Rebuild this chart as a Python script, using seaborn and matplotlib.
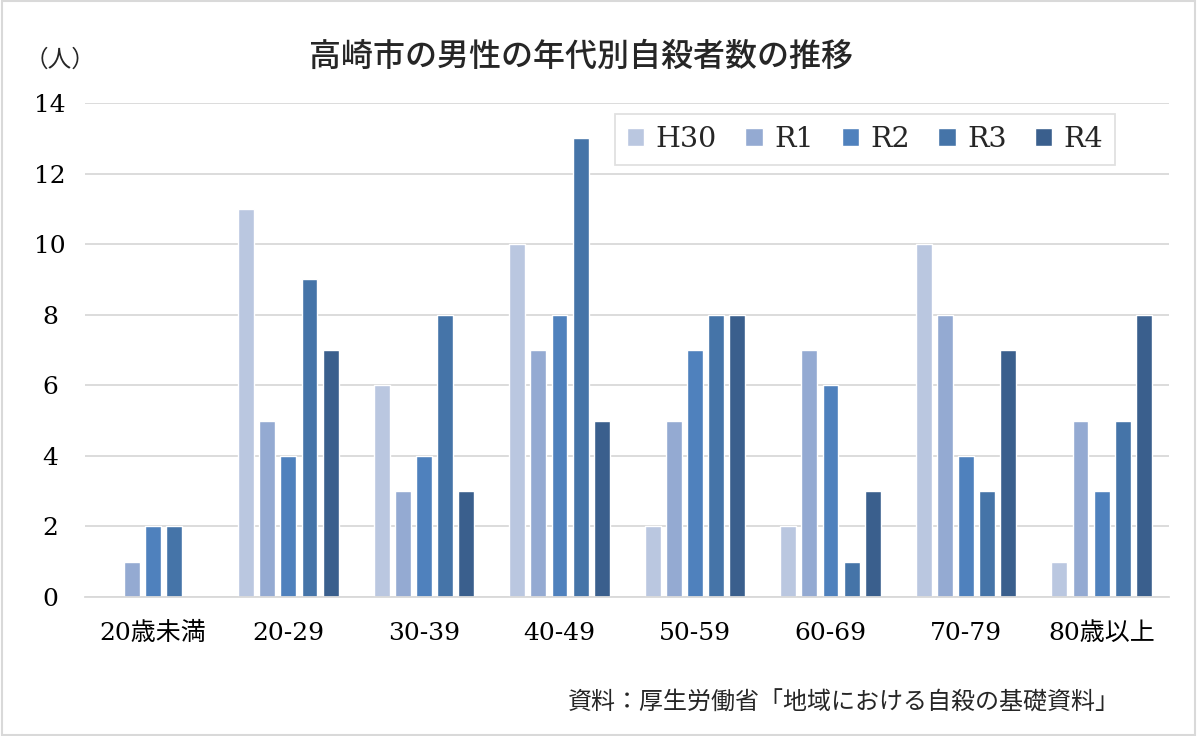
import matplotlib
matplotlib.use("Agg")
import matplotlib.pyplot as plt
import seaborn as sns
import pandas as pd
from matplotlib.patches import Rectangle

categories = ["20歳未満", "20-29", "30-39", "40-49", "50-59", "60-69", "70-79", "80歳以上"]
series_names = ["H30", "R1", "R2", "R3", "R4"]
h30 = [0, 11, 6, 10, 2, 2, 10, 1]
r1 = [1, 5, 3, 7, 5, 7, 8, 5]
r2 = [2, 4, 4, 8, 7, 6, 4, 3]
r3 = [2, 9, 8, 13, 8, 1, 3, 5]
r4 = [0, 7, 3, 5, 8, 3, 7, 8]
yticks = [0, 2, 4, 6, 8, 10, 12, 14]
colors = ["#BAC7E0", "#94AAD2", "#4F81BD", "#4574A8", "#3A5F8D"]

rows = []
for name, vals in zip(series_names, [h30, r1, r2, r3, r4]):
    for c, v in zip(categories, vals):
        rows.append({"cat": c, "series": name, "value": v})
df = pd.DataFrame(rows)

sns.set_theme(style="white")
serif = ["DejaVu Serif", "Noto Sans CJK JP"]
cjk = ["Noto Sans CJK JP", "DejaVu Sans"]
plt.rcParams["font.family"] = serif

fig = plt.figure(figsize=(11.97, 7.36), dpi=100)
ax = fig.add_axes([0.071, 0.189, 0.906, 0.671])
sns.barplot(data=df, x="cat", y="value", hue="series", order=categories,
            hue_order=series_names, palette=colors, width=0.78, gap=0.25,
            saturation=1, ax=ax, legend=True)

ax.set_ylim(0, 14)
ax.set_yticks(yticks)
ax.set_yticklabels([str(t) for t in yticks], fontsize=18, family=serif, ha="center")
ax.set_xticks(range(len(categories)))
ax.set_xticklabels(categories, fontsize=18, family=serif)
ax.tick_params(axis="both", length=0, colors="#000000")
ax.tick_params(axis="y", pad=25)
ax.tick_params(axis="x", pad=18)
ax.set_xlabel("")
ax.set_ylabel("")
ax.grid(axis="y", color="#D9D9D9", linewidth=1.3)
ax.set_axisbelow(True)
for s in ["top", "right", "left"]:
    ax.spines[s].set_visible(False)
ax.spines["bottom"].set_color("#D9D9D9")
ax.spines["bottom"].set_linewidth(1.3)

leg = ax.legend(loc="upper right", bbox_to_anchor=(0.963, 1.006), ncol=5,
                frameon=True, fontsize=20.5, handlelength=0.6, handleheight=0.6,
                columnspacing=1.0, handletextpad=0.4, borderpad=0.42,
                fancybox=False, edgecolor="#D9D9D9")
leg.get_frame().set_linewidth(1.3)
for t in leg.get_texts():
    t.set_family(serif)

fig.text(0.485, 0.923, "高崎市の男性の年代別自殺者数の推移", ha="center", va="center",
         fontsize=23, family=cjk, fontweight="medium")
fig.text(0.05, 0.918, "（人）", ha="center", va="center", fontsize=17, family=cjk)
fig.text(0.705, 0.045, "資料：厚生労働省「地域における自殺の基礎資料」", ha="center",
         va="center", fontsize=17.3, family=cjk)

fig.patches.append(Rectangle((0.002, 0.002), 0.996, 0.996, transform=fig.transFigure,
                             fill=False, edgecolor="#D9D9D9", linewidth=1.5))

fig.savefig("out.png", dpi=100)
